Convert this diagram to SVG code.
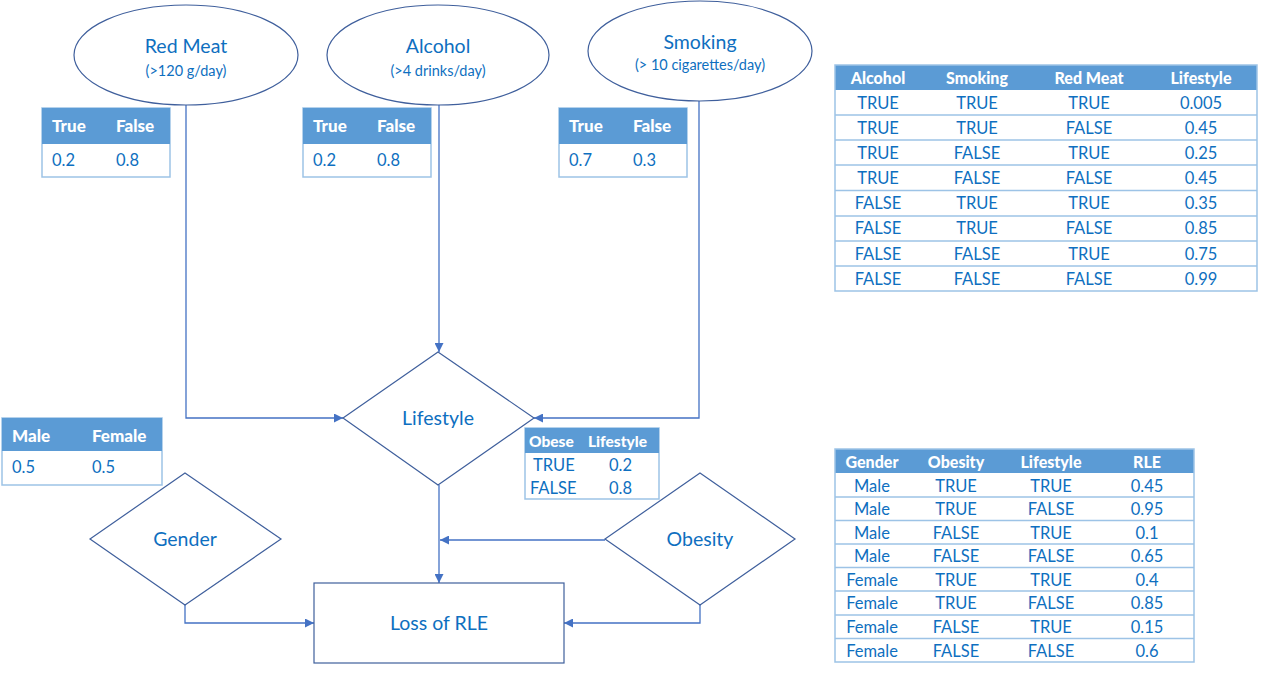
<svg xmlns="http://www.w3.org/2000/svg" width="1266" height="674" viewBox="0 0 1266 674">
<defs>
<marker id="arr" viewBox="0 0 10 10" refX="10" refY="5" markerWidth="9" markerHeight="9" markerUnits="userSpaceOnUse" orient="auto">
<path d="M0,0 L10,5 L0,10 z" fill="#4472c4"/>
</marker>
</defs>
<style>
text{font-family:Lato,"Liberation Sans",sans-serif;fill:#0e6fc0;dominant-baseline:central}
.shape{fill:#fff;stroke:#3f5f9c;stroke-width:1.2}
.conn{fill:none;stroke:#4472c4;stroke-width:1.3;marker-end:url(#arr)}
.title{font-size:19.5px;text-anchor:middle}
.sub{font-size:14.5px;text-anchor:middle}
.hdr{fill:#5b9bd5}
.tb{fill:#fff;stroke:#9dc3e6;stroke-width:1.5}
.tbo{fill:none;stroke:#9dc3e6;stroke-width:1.5}
.ht{fill:#fff;font-weight:900;font-size:16px}
.v{font-size:16.5px}
.c{text-anchor:middle}
.row{stroke:#9dc3e6;stroke-width:1.3}
</style>

<g id="connectors">
<path class="conn" d="M186,105 V418 H343"/>
<path class="conn" d="M439,105 V352"/>
<path class="conn" d="M699,101 V418 H534"/>
<path class="conn" d="M439,485 V583"/>
<path class="conn" d="M605,540 H440"/>
<path class="conn" d="M185,605 V623 H314"/>
<path class="conn" d="M700,605 V623 H564"/>
</g>

<g id="redmeat">
<ellipse class="shape" cx="186" cy="55" rx="112" ry="50"/>
<text class="title" x="186" y="45">Red Meat</text>
<text class="sub" x="186" y="70">(&gt;120 g/day)</text>
</g>
<g id="alcohol">
<ellipse class="shape" cx="438" cy="55" rx="111" ry="50"/>
<text class="title" x="438" y="45">Alcohol</text>
<text class="sub" x="438" y="70">(&gt;4 drinks/day)</text>
</g>
<g id="smoking">
<ellipse class="shape" cx="700" cy="51" rx="112" ry="50"/>
<text class="title" x="700" y="41">Smoking</text>
<text class="sub" x="700" y="64">(&gt; 10 cigarettes/day)</text>
</g>

<g id="redmeat-table">
<rect class="tb" x="42" y="108" width="128" height="69"/>
<rect class="hdr" x="42" y="108" width="128" height="36"/>
<text class="ht" x="52" y="125.5" style="font-size:17px">True</text>
<text class="ht" x="116" y="125.5" style="font-size:17px">False</text>
<text class="v" x="52" y="160">0.2</text>
<text class="v" x="116" y="160">0.8</text>
</g>
<g id="alcohol-table">
<rect class="tb" x="303" y="108" width="128" height="69"/>
<rect class="hdr" x="303" y="108" width="128" height="36"/>
<text class="ht" x="313" y="125.5" style="font-size:17px">True</text>
<text class="ht" x="377" y="125.5" style="font-size:17px">False</text>
<text class="v" x="313" y="160">0.2</text>
<text class="v" x="377" y="160">0.8</text>
</g>
<g id="smoking-table">
<rect class="tb" x="559" y="108" width="128" height="69"/>
<rect class="hdr" x="559" y="108" width="128" height="36"/>
<text class="ht" x="569" y="125.5" style="font-size:17px">True</text>
<text class="ht" x="633" y="125.5" style="font-size:17px">False</text>
<text class="v" x="569" y="160">0.7</text>
<text class="v" x="633" y="160">0.3</text>
</g>

<g id="lifestyle">
<polygon class="shape" points="438,352 534,418 438,485 343,418"/>
<text class="title" x="438" y="417">Lifestyle</text>
</g>

<g id="gender-table">
<rect class="tb" x="2" y="418" width="160" height="67"/>
<rect class="hdr" x="2" y="418" width="160" height="33"/>
<text class="ht" x="12" y="435" style="font-size:17px">Male</text>
<text class="ht" x="92" y="435" style="font-size:17px">Female</text>
<text class="v" x="12" y="467">0.5</text>
<text class="v" x="92" y="467">0.5</text>
</g>

<g id="obese-table">
<rect class="tb" x="525" y="428" width="134" height="71"/>
<rect class="hdr" x="525" y="428" width="134" height="25"/>
<text class="ht" x="529" y="441" style="font-size:15.5px">Obese</text>
<text class="ht" x="588" y="441" style="font-size:15.5px">Lifestyle</text>
<text class="v" x="533" y="465">TRUE</text>
<text class="v" x="609" y="465">0.2</text>
<text class="v" x="530" y="488">FALSE</text>
<text class="v" x="609" y="488">0.8</text>
</g>

<g id="gender">
<polygon class="shape" points="185,473 281,539 185,605 90,539"/>
<text class="title" x="185" y="538">Gender</text>
</g>
<g id="obesity">
<polygon class="shape" points="700,473 795,539 700,605 605,539"/>
<text class="title" x="700" y="538">Obesity</text>
</g>
<g id="loss-rle">
<rect class="shape" x="314" y="583" width="250" height="80"/>
<text class="title" x="439" y="622">Loss of RLE</text>
</g>

<g id="lifestyle-cpt">
<rect class="hdr" x="835" y="65" width="422" height="25"/>
<g class="row">
<line x1="835" y1="115" x2="1257" y2="115"/>
<line x1="835" y1="140" x2="1257" y2="140"/>
<line x1="835" y1="165" x2="1257" y2="165"/>
<line x1="835" y1="190.5" x2="1257" y2="190.5"/>
<line x1="835" y1="216" x2="1257" y2="216"/>
<line x1="835" y1="241" x2="1257" y2="241"/>
<line x1="835" y1="266" x2="1257" y2="266"/>
</g>
<rect class="tbo" x="835" y="65" width="422" height="226"/>
<text class="ht c" x="878" y="77.5">Alcohol</text>
<text class="ht c" x="977" y="77.5">Smoking</text>
<text class="ht c" x="1089" y="77.5">Red Meat</text>
<text class="ht c" x="1201" y="77.5">Lifestyle</text>
<text class="v c" x="878" y="103">TRUE</text><text class="v c" x="977" y="103">TRUE</text><text class="v c" x="1089" y="103">TRUE</text><text class="v c" x="1201" y="103">0.005</text>
<text class="v c" x="878" y="128">TRUE</text><text class="v c" x="977" y="128">TRUE</text><text class="v c" x="1089" y="128">FALSE</text><text class="v c" x="1201" y="128">0.45</text>
<text class="v c" x="878" y="153">TRUE</text><text class="v c" x="977" y="153">FALSE</text><text class="v c" x="1089" y="153">TRUE</text><text class="v c" x="1201" y="153">0.25</text>
<text class="v c" x="878" y="178">TRUE</text><text class="v c" x="977" y="178">FALSE</text><text class="v c" x="1089" y="178">FALSE</text><text class="v c" x="1201" y="178">0.45</text>
<text class="v c" x="878" y="203">FALSE</text><text class="v c" x="977" y="203">TRUE</text><text class="v c" x="1089" y="203">TRUE</text><text class="v c" x="1201" y="203">0.35</text>
<text class="v c" x="878" y="228">FALSE</text><text class="v c" x="977" y="228">TRUE</text><text class="v c" x="1089" y="228">FALSE</text><text class="v c" x="1201" y="228">0.85</text>
<text class="v c" x="878" y="253.5">FALSE</text><text class="v c" x="977" y="253.5">FALSE</text><text class="v c" x="1089" y="253.5">TRUE</text><text class="v c" x="1201" y="253.5">0.75</text>
<text class="v c" x="878" y="278.5">FALSE</text><text class="v c" x="977" y="278.5">FALSE</text><text class="v c" x="1089" y="278.5">FALSE</text><text class="v c" x="1201" y="278.5">0.99</text>
</g>

<g id="rle-cpt">
<rect class="hdr" x="835" y="449" width="359" height="24"/>
<g class="row">
<line x1="835" y1="497" x2="1194" y2="497"/>
<line x1="835" y1="520.5" x2="1194" y2="520.5"/>
<line x1="835" y1="544" x2="1194" y2="544"/>
<line x1="835" y1="567.5" x2="1194" y2="567.5"/>
<line x1="835" y1="591" x2="1194" y2="591"/>
<line x1="835" y1="615" x2="1194" y2="615"/>
<line x1="835" y1="638.5" x2="1194" y2="638.5"/>
</g>
<rect class="tbo" x="835" y="449" width="359" height="213"/>
<text class="ht c" x="872" y="461.5">Gender</text>
<text class="ht c" x="956" y="461.5">Obesity</text>
<text class="ht c" x="1051" y="461.5">Lifestyle</text>
<text class="ht c" x="1147" y="461.5">RLE</text>
<text class="v c" x="872" y="485.5">Male</text><text class="v c" x="956" y="485.5">TRUE</text><text class="v c" x="1051" y="485.5">TRUE</text><text class="v c" x="1147" y="485.5">0.45</text>
<text class="v c" x="872" y="509">Male</text><text class="v c" x="956" y="509">TRUE</text><text class="v c" x="1051" y="509">FALSE</text><text class="v c" x="1147" y="509">0.95</text>
<text class="v c" x="872" y="532.5">Male</text><text class="v c" x="956" y="532.5">FALSE</text><text class="v c" x="1051" y="532.5">TRUE</text><text class="v c" x="1147" y="532.5">0.1</text>
<text class="v c" x="872" y="556">Male</text><text class="v c" x="956" y="556">FALSE</text><text class="v c" x="1051" y="556">FALSE</text><text class="v c" x="1147" y="556">0.65</text>
<text class="v c" x="872" y="579.5">Female</text><text class="v c" x="956" y="579.5">TRUE</text><text class="v c" x="1051" y="579.5">TRUE</text><text class="v c" x="1147" y="579.5">0.4</text>
<text class="v c" x="872" y="603">Female</text><text class="v c" x="956" y="603">TRUE</text><text class="v c" x="1051" y="603">FALSE</text><text class="v c" x="1147" y="603">0.85</text>
<text class="v c" x="872" y="627">Female</text><text class="v c" x="956" y="627">FALSE</text><text class="v c" x="1051" y="627">TRUE</text><text class="v c" x="1147" y="627">0.15</text>
<text class="v c" x="872" y="650.5">Female</text><text class="v c" x="956" y="650.5">FALSE</text><text class="v c" x="1051" y="650.5">FALSE</text><text class="v c" x="1147" y="650.5">0.6</text>
</g>
</svg>
